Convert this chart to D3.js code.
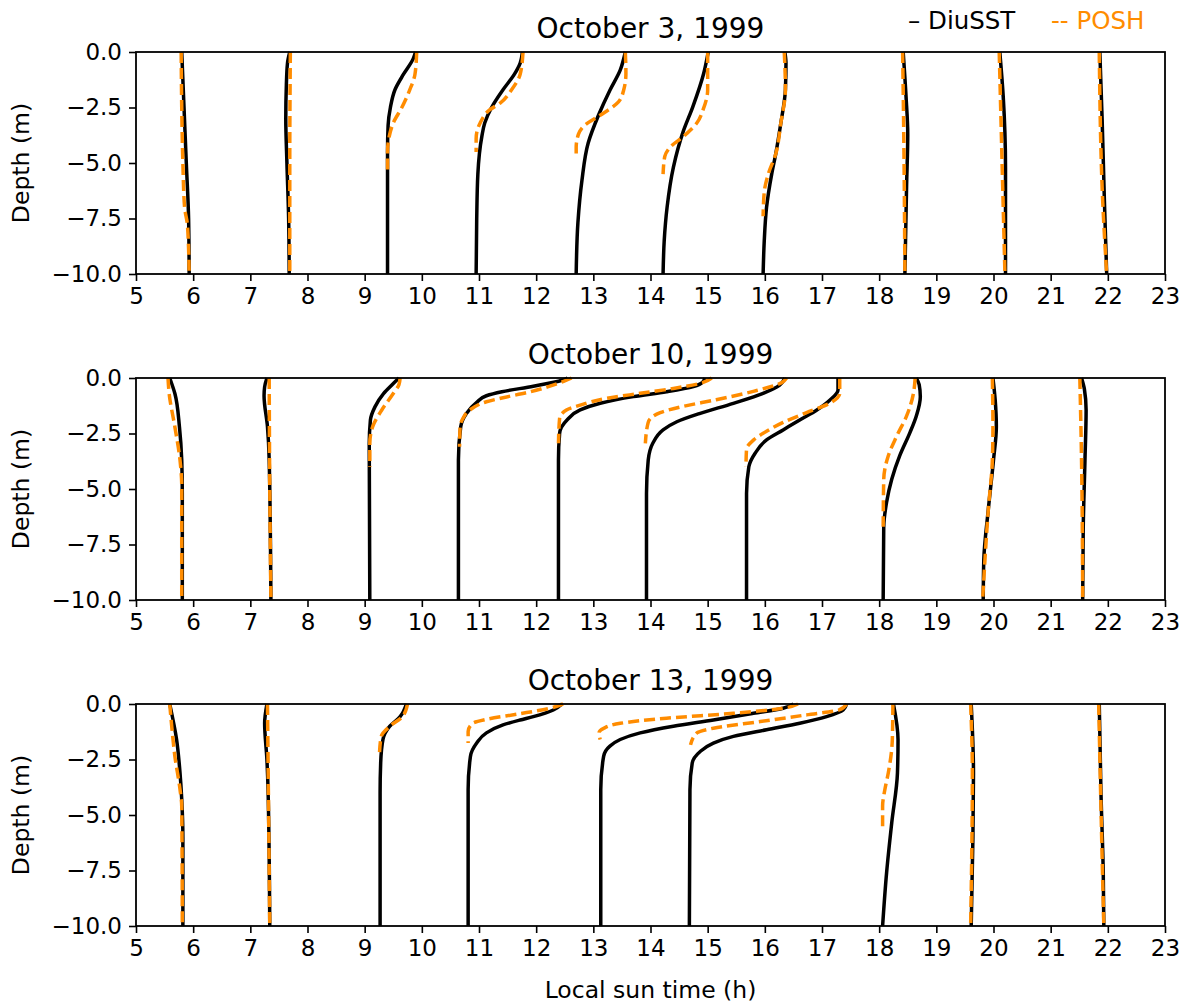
<!DOCTYPE html>
<html>
<head>
<meta charset="utf-8">
<script src="https://cdn.jsdelivr.net/npm/d3@7"></script>
<style>
  body { margin: 0; background: #fff; }
  text { font-family: "DejaVu Sans", sans-serif; }
</style>
</head>
<body>
<svg id="chart" width="1191" height="1006"></svg>
<script>
// ---------------- DATA ----------------
const panelTitles = ["October 3, 1999", "October 10, 1999", "October 13, 1999"];
const xTickValues = [5,6,7,8,9,10,11,12,13,14,15,16,17,18,19,20,21,22,23];
const yTickValues = [0, -2.5, -5, -7.5, -10];
const seriesNames = ["DiuSST", "POSH"];

// Each profile: list of [depth (m), local sun time (h)]
const oct3DiuSST = [
  [[0,5.80],[-2.5,5.84],[-5,5.88],[-7.5,5.92],[-10,5.93]],
  [[0,7.69],[-0.5,7.65],[-1.5,7.63],[-3,7.62],[-5,7.64],[-7.5,7.67],[-10,7.68]],
  [[0,9.89],[-0.3,9.85],[-1,9.68],[-1.7,9.53],[-2.5,9.45],[-3.3,9.41],[-4.5,9.40],[-10,9.40]],
  [[0,11.76],[-0.5,11.72],[-1,11.62],[-1.7,11.42],[-2.5,11.22],[-3.2,11.10],[-3.8,11.05],[-5.5,10.98],[-7.5,10.96],[-10,10.95]],
  [[0,13.56],[-0.82,13.47],[-1.72,13.29],[-2.85,13.09],[-4.1,12.91],[-5.8,12.80],[-7.7,12.73],[-10,12.70]],
  [[0,15.01],[-0.97,14.93],[-2.47,14.74],[-3.6,14.57],[-5.2,14.40],[-7.0,14.29],[-8.5,14.24],[-10,14.22]],
  [[0,16.35],[-0.5,16.37],[-1.7,16.36],[-3.2,16.28],[-4.6,16.19],[-5.5,16.12],[-7,16.03],[-8.5,15.99],[-10,15.97]],
  [[0,18.42],[-2,18.47],[-3.7,18.50],[-6,18.48],[-10,18.45]],
  [[0,20.11],[-2,20.17],[-5.2,20.21],[-10,20.21]],
  [[0,21.86],[-3,21.90],[-6.7,21.94],[-10,21.98]]
];
const oct3POSH = [
  [[0,5.79],[-2.5,5.80],[-5,5.82],[-7,5.85],[-7.8,5.90],[-10,5.93]],
  [[0,7.70],[-5,7.69],[-10,7.69]],
  [[0,9.91],[-1,9.88],[-1.7,9.79],[-2.5,9.65],[-3.2,9.50],[-3.8,9.43],[-4.5,9.40],[-5.5,9.40]],
  [[0,11.77],[-1,11.72],[-1.7,11.57],[-2.3,11.37],[-2.6,11.19],[-3.2,11.02],[-3.9,10.95],[-4.5,10.95]],
  [[0,13.56],[-0.97,13.57],[-1.72,13.53],[-2.25,13.44],[-2.85,13.12],[-3.3,12.85],[-3.7,12.74],[-4.3,12.70],[-4.8,12.70]],
  [[0,15.0],[-1.7,15.0],[-2.6,14.92],[-3.2,14.81],[-3.75,14.60],[-4.3,14.34],[-4.7,14.25],[-5.5,14.22]],
  [[0,16.34],[-1.7,16.36],[-3.2,16.28],[-4.6,16.19],[-5.5,16.06],[-6.3,15.99],[-7.4,15.97]],
  [[0,18.41],[-3.7,18.43],[-10,18.45]],
  [[0,20.10],[-10,20.20]],
  [[0,21.85],[-6.7,21.91],[-10,21.98]]
];

const oct10DiuSST = [
  [[0,5.59],[-0.7,5.68],[-2.2,5.76],[-3.7,5.80],[-5.2,5.81],[-10,5.81]],
  [[0,7.29],[-0.4,7.25],[-0.8,7.24],[-2.2,7.30],[-3.7,7.33],[-10,7.36]],
  [[0,9.60],[-0.3,9.48],[-0.7,9.33],[-1.3,9.18],[-1.9,9.10],[-3,9.08],[-10,9.09]],
  [[0,12.55],[-0.1,12.45],[-0.37,11.95],[-0.62,11.40],[-0.8,11.13],[-1.1,10.96],[-1.6,10.78],[-2.2,10.68],[-3.7,10.64],[-10,10.64]],
  [[0,14.95],[-0.17,14.92],[-0.39,14.75],[-0.62,14.28],[-0.84,13.70],[-1.14,13.12],[-1.44,12.77],[-1.89,12.54],[-2.49,12.41],[-3.7,12.39],[-10,12.39]],
  [[0,16.35],[-0.32,16.26],[-0.69,15.97],[-1.14,15.45],[-1.59,14.87],[-1.97,14.46],[-2.34,14.22],[-2.94,14.04],[-3.7,13.96],[-5.2,13.93],[-10,13.93]],
  [[0,17.28],[-0.54,17.28],[-0.99,17.14],[-1.44,16.91],[-1.89,16.61],[-2.34,16.32],[-2.79,16.03],[-3.39,15.83],[-4.0,15.72],[-5.2,15.68],[-10,15.68]],
  [[0,18.65],[-0.3,18.70],[-0.84,18.72],[-1.71,18.65],[-2.45,18.54],[-3.5,18.36],[-4.56,18.22],[-5.6,18.13],[-6.7,18.08],[-10,18.07]],
  [[0,19.99],[-1,20.03],[-2.2,20.05],[-3.7,20.0],[-5.9,19.91],[-8.2,19.83],[-10,19.82]],
  [[0,21.54],[-0.5,21.59],[-1.44,21.62],[-3.7,21.60],[-6.7,21.57],[-10,21.56]]
];
const oct10POSH = [
  [[0,5.56],[-0.7,5.58],[-2.2,5.68],[-3.7,5.77],[-4.9,5.80],[-10,5.80]],
  [[0,7.33],[-5,7.34],[-10,7.36]],
  [[0,9.62],[-0.3,9.60],[-0.7,9.50],[-1.44,9.30],[-2.19,9.14],[-2.94,9.09],[-4.0,9.09]],
  [[0,12.62],[-0.15,12.48],[-0.4,12.2],[-0.62,11.9],[-0.9,11.4],[-1.07,11.13],[-1.44,10.84],[-1.82,10.72],[-2.19,10.67],[-3.1,10.66]],
  [[0,15.07],[-0.24,14.87],[-0.47,14.40],[-0.69,13.82],[-0.92,13.23],[-1.22,12.77],[-1.44,12.53],[-1.82,12.41],[-2.94,12.39]],
  [[0,16.38],[-0.2,16.30],[-0.6,15.80],[-0.98,15.15],[-1.28,14.57],[-1.56,14.17],[-2.0,13.96],[-2.94,13.91]],
  [[0,17.31],[-0.69,17.31],[-1.13,17.14],[-1.56,16.73],[-2.0,16.32],[-2.4,16.03],[-2.8,15.80],[-3.2,15.68],[-4.0,15.67]],
  [[0,18.63],[-0.69,18.60],[-1.71,18.48],[-2.6,18.31],[-3.5,18.16],[-4.56,18.08],[-6.7,18.07]],
  [[0,19.98],[-2.2,19.99],[-3.7,19.98],[-5.9,19.91],[-10,19.81]],
  [[0,21.51],[-3.7,21.54],[-10,21.56]]
];

const oct13DiuSST = [
  [[0,5.59],[-1.6,5.71],[-3.1,5.77],[-4.3,5.80],[-6,5.82],[-10,5.82]],
  [[0,7.29],[-0.87,7.25],[-2.5,7.29],[-3.85,7.31],[-10,7.34]],
  [[0,9.73],[-0.57,9.62],[-1.0,9.44],[-1.6,9.32],[-2.66,9.28],[-4,9.27],[-10,9.27]],
  [[0,12.45],[-0.27,12.30],[-0.57,11.95],[-0.72,11.72],[-0.94,11.42],[-1.3,11.13],[-1.76,10.96],[-2.36,10.85],[-3.85,10.81],[-10,10.81]],
  [[0,16.50],[-0.19,16.32],[-0.42,15.80],[-0.72,15.10],[-1.0,14.40],[-1.3,13.82],[-1.6,13.47],[-1.9,13.29],[-2.36,13.18],[-3.85,13.13],[-10,13.13]],
  [[0,17.43],[-0.27,17.37],[-0.57,17.08],[-0.87,16.61],[-1.16,16.03],[-1.46,15.45],[-1.76,15.10],[-2.14,14.87],[-2.66,14.73],[-3.85,14.69],[-10,14.68]],
  [[0,18.25],[-1.61,18.33],[-3.1,18.32],[-5.35,18.22],[-7.6,18.13],[-10,18.06]],
  [[0,19.61],[-3.1,19.65],[-6,19.64],[-10,19.61]],
  [[0,21.85],[-4,21.88],[-7.6,21.92],[-10,21.93]]
];
const oct13POSH = [
  [[0,5.59],[-0.87,5.62],[-2.35,5.68],[-3.85,5.77],[-4.6,5.80],[-10,5.81]],
  [[0,7.30],[-5,7.32],[-10,7.34]],
  [[0,9.75],[-0.57,9.66],[-1.0,9.44],[-1.46,9.29],[-2.2,9.26]],
  [[0,12.47],[-0.19,12.24],[-0.45,11.69],[-0.69,11.13],[-0.87,10.89],[-1.24,10.81],[-1.76,10.81]],
  [[0,16.58],[-0.19,16.32],[-0.42,15.45],[-0.64,14.28],[-0.87,13.47],[-1.1,13.18],[-1.3,13.10],[-1.6,13.12]],
  [[0,17.43],[-0.27,17.30],[-0.49,16.73],[-0.79,15.92],[-1.09,15.10],[-1.31,14.81],[-1.84,14.70]],
  [[0,18.24],[-1.61,18.23],[-3.1,18.16],[-3.85,18.10],[-4.6,18.06],[-5.65,18.06]],
  [[0,19.60],[-3.1,19.63],[-10,19.60]],
  [[0,21.84],[-6.9,21.90],[-10,21.93]]
];

const panelDiuSST = [oct3DiuSST, oct10DiuSST, oct13DiuSST];
const panelPOSH = [oct3POSH, oct10POSH, oct13POSH];

// ---------------- LAYOUT ----------------
const svg = d3.select("#chart");
const left = 136, right = 1165;
const panelTops = [52, 378, 704];
const panelH = 222;
const black = "#000000", orange = "#ff8c00";
const minus = s => s.replace("-", "\u2212");

const x = d3.scaleLinear().domain([5, 23]).range([left, right]);

panelTitles.forEach((title, i) => {
  const top = panelTops[i];
  const y = d3.scaleLinear().domain([0, -10]).range([top, top + panelH]);
  const g = svg.append("g");

  const line = d3.line()
    .x(d => x(d[1]))
    .y(d => y(d[0]))
    .curve(d3.curveMonotoneY);

  // DiuSST solid black
  g.selectAll("path.diu").data(panelDiuSST[i]).join("path")
    .attr("class", "diu")
    .attr("d", line)
    .attr("fill", "none")
    .attr("stroke", black)
    .attr("stroke-width", 3.5)
    .attr("stroke-linejoin", "round");

  // POSH dashed orange
  g.selectAll("path.posh").data(panelPOSH[i]).join("path")
    .attr("class", "posh")
    .attr("d", line)
    .attr("fill", "none")
    .attr("stroke", orange)
    .attr("stroke-width", 3.5)
    .attr("stroke-dasharray", "11,5");

  // axes
  const xAxis = d3.axisBottom(x).tickValues(xTickValues).tickFormat(d3.format("d")).tickSizeOuter(0).tickSize(7).tickPadding(7);
  const yAxis = d3.axisLeft(y).tickValues(yTickValues).tickFormat(d => minus(d3.format(".1f")(d))).tickSizeOuter(0).tickSize(7).tickPadding(7);

  const gx = g.append("g").attr("transform", `translate(0,${top + panelH})`).call(xAxis);
  const gy = g.append("g").attr("transform", `translate(${left},0)`).call(yAxis);
  [gx, gy].forEach(a => {
    a.select(".domain").remove();
    a.selectAll(".tick line").attr("stroke", "#000").attr("stroke-width", 1.6);
    a.selectAll(".tick text").attr("fill", "#000").style("font-size", "23px").style("font-family", "DejaVu Sans");
  });

  // frame
  g.append("rect")
    .attr("x", left).attr("y", top)
    .attr("width", right - left).attr("height", panelH)
    .attr("fill", "none").attr("stroke", "#000").attr("stroke-width", 1.8);

  // title
  g.append("text")
    .attr("x", (left + right) / 2).attr("y", top - 14)
    .attr("text-anchor", "middle")
    .style("font-size", "28px")
    .text(title);

  // y label
  g.append("text")
    .attr("transform", `translate(29,${top + panelH / 2}) rotate(-90)`)
    .attr("text-anchor", "middle")
    .style("font-size", "23.5px")
    .text("Depth (m)");
});

// x label
svg.append("text")
  .attr("x", (left + right) / 2).attr("y", 998)
  .attr("text-anchor", "middle")
  .style("font-size", "23.5px")
  .text("Local sun time (h)");

// legend (text-style as in reference)
svg.append("text")
  .attr("x", 908).attr("y", 29)
  .style("font-size", "24.5px").attr("fill", black)
  .text("\u2013 " + seriesNames[0]);
svg.append("text")
  .attr("x", 1051).attr("y", 29)
  .style("font-size", "24.5px").attr("fill", orange)
  .text("-- " + seriesNames[1]);
</script>
</body>
</html>
